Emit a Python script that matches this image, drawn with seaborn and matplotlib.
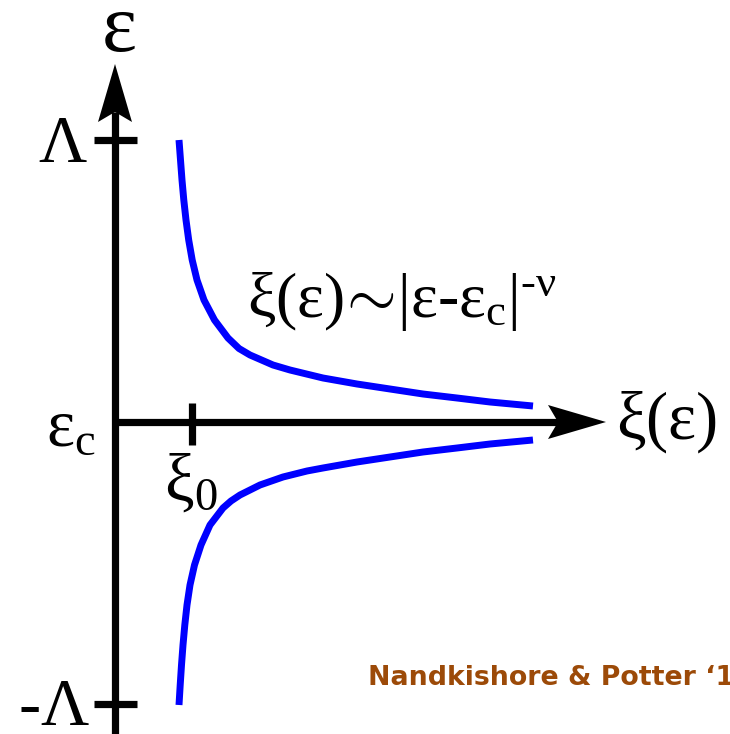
import matplotlib
matplotlib.use("Agg")
import matplotlib.pyplot as plt
import seaborn as sns

# Upper branch (eps > eps_c): correlation length xi vs energy offset
xi_upper = [64, 65.5, 67, 68.8, 71, 73.7, 77.2, 82, 89, 99.5, 113, 124, 135,
            158, 175, 208, 242, 275, 308, 342, 375, 418]
eps_upper = [282, 262, 242, 222, 202, 182, 162, 142, 122, 102, 84, 73.5, 67,
             57, 52, 44, 38, 33, 28, 24, 20, 16]

# Lower branch (eps < eps_c)
xi_lower = [64, 65.2, 66.5, 68, 69.8, 72, 75, 79.5, 86, 95, 108, 116, 125,
            145, 168, 192, 208, 242, 275, 308, 342, 375, 418]
eps_lower = [-283, -263, -243, -223, -203, -183, -163, -143, -123, -103, -86,
             -79, -73, -63, -55, -49, -46, -40, -35, -30, -26, -22, -18]

# Axis landmarks
LAMBDA = 282
XI0 = 77
X_TIP = 491
Y_TIP = 358

sns.set_theme(style="white")
plt.rcParams["mathtext.fontset"] = "custom"
plt.rcParams["mathtext.rm"] = "Liberation Serif"
plt.rcParams["mathtext.it"] = "Liberation Serif"
plt.rcParams["text.color"] = "black"

fig = plt.figure(figsize=(7.3, 7.34), dpi=100)
ax = fig.add_axes([0, 0, 1, 1])
ax.set_xlim(-115, 615)
ax.set_ylim(-312, 422)
ax.axis("off")

blue = "#0000ff"
for xs, ys in ((xi_upper, eps_upper), (xi_lower, eps_lower)):
    sns.lineplot(x=xs, y=ys, sort=False, estimator=None, color=blue,
                 linewidth=5, ax=ax, solid_capstyle="butt",
                 solid_joinstyle="round")

lw = 5.2
head_len = 58
head_half = 17
notch = 10

# vertical axis with notched arrow head
ax.plot([0, 0], [-312, Y_TIP - head_len + notch], color="black", lw=lw,
        solid_capstyle="butt")
ax.fill([0, -head_half, 0, head_half],
        [Y_TIP, Y_TIP - head_len, Y_TIP - head_len + notch, Y_TIP - head_len],
        color="black", lw=0)
# horizontal axis with notched arrow head
ax.plot([0, X_TIP - head_len + notch], [0, 0], color="black", lw=lw,
        solid_capstyle="butt")
ax.fill([X_TIP, X_TIP - head_len, X_TIP - head_len + notch, X_TIP - head_len],
        [0, head_half, 0, -head_half], color="black", lw=0)

# tick marks
for yv in (LAMBDA, -LAMBDA):
    ax.plot([-21, 22], [yv, yv], color="black", lw=lw, solid_capstyle="butt")
ax.plot([XI0, XI0], [19, -23], color="black", lw=lw, solid_capstyle="butt")

kw = dict(color="black", ha="center", va="center")
ax.text(3, 394, r"$\mathrm{\varepsilon}$", fontsize=60, **kw)
ax.text(-52, LAMBDA - 3, r"$\mathrm{\Lambda}$", fontsize=48, **kw)
ax.text(-61, -LAMBDA - 2, r"$\mathrm{\text{-}\Lambda}$", fontsize=48, **kw)
ax.text(-44, -5, r"$\mathrm{\varepsilon_c}$", fontsize=48, **kw)
ax.text(76, -60, r"$\mathrm{\xi_0}$", fontsize=48, **kw)
ax.text(552, 0, r"$\mathrm{\xi(\varepsilon)}$", fontsize=48, **kw)
ax.text(132, 105,
        r"$\mathrm{\xi(\varepsilon)\!\sim\!|\varepsilon\text{-}\varepsilon_c|^{\text{-}\nu}}$",
        fontsize=46, color="black", ha="left", va="baseline")

ax.text(253, -263, "Nandkishore & Potter \u201814", family="DejaVu Sans",
        fontweight="bold", fontsize=19.3, color="#9c4a08", ha="left",
        va="baseline")

fig.savefig("out.png", dpi=100)
